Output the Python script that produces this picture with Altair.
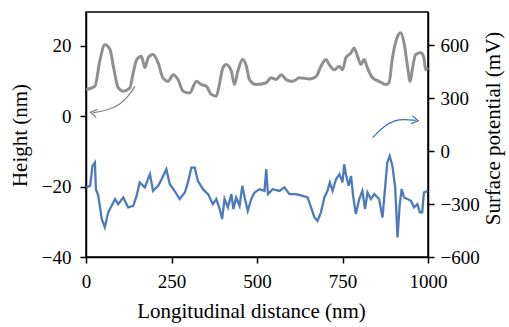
import altair as alt
import pandas as pd

# Height profile (nm) - gray trace, left axis
gray_x = [0, 26, 41, 55, 70, 80, 94, 109, 128, 138, 148, 162, 172, 182, 196, 211, 225, 240, 255, 269,
          284, 303, 323, 337, 352, 366, 381, 391, 400, 410, 425, 434, 444, 459, 469, 478, 498, 527, 541, 556,
          571, 585, 604, 624, 653, 673, 687, 702, 711, 726, 741, 750, 760, 775, 784, 794, 804, 813, 823, 838,
          857, 877, 886, 896, 911, 920, 930, 940, 948, 954, 964, 979, 988, 993, 1000]
gray_h = [7.6, 8.5, 16, 20.3, 19, 14.2, 8.1, 7.1, 8, 12.3, 16, 17, 13.8, 16.6, 17.5, 15.1, 10.9, 9.9, 11.8, 10.4,
          7.1, 6.6, 9.9, 9, 8.5, 6.2, 5.7, 9.5, 13.7, 14.7, 12.8, 9, 12.8, 16.1, 14.2, 10.4, 9, 9.5, 10.9, 10.4,
          11.8, 10.4, 9.9, 10.9, 10.6, 11.3, 14.2, 16.1, 14.7, 13.2, 14.2, 13.2, 16.6, 18, 19.4, 17, 14.7, 16.1, 13.7, 10.9,
          9.9, 9, 9.5, 16.6, 22.7, 23.7, 20.8, 14.2, 9.9, 13.2, 17.5, 18, 16.6, 13.2, 13.8]

# Surface potential (mV) - blue trace, right axis
blue_x = [0, 12, 19, 26, 29, 36, 46, 55, 65, 75, 85, 94, 109, 123, 138, 148, 157, 172, 187, 196,
          211, 221, 235, 245, 259, 274, 289, 298, 308, 318, 327, 342, 357, 371, 381, 391, 398, 405, 415, 425,
          431, 439, 449, 457, 464, 473, 483, 493, 507, 522, 527, 532, 546, 566, 580, 595, 614, 634, 648, 658,
          668, 677, 687, 697, 706, 713, 721, 731, 741, 750, 755, 760, 768, 775, 781, 789, 799, 808, 816, 823,
          833, 843, 857, 867, 875, 881, 888, 896, 904, 911, 917, 923, 930, 940, 950, 959, 969, 976, 983, 988, 1000]
blue_p = [-206, -197, -85, -65, -216, -254, -385, -432, -347, -310, -272, -301, -263, -319, -310, -254, -178, -206, -131, -226,
          -197, -160, -103, -188, -226, -272, -235, -178, -94, -94, -169, -216, -244, -301, -272, -329, -385, -272, -319, -244,
          -329, -263, -310, -197, -263, -338, -272, -235, -216, -226, -103, -244, -216, -226, -206, -244, -244, -254, -263, -319,
          -376, -395, -347, -263, -226, -178, -226, -160, -131, -178, -75, -131, -197, -141, -254, -357, -272, -226, -329, -235,
          -272, -244, -272, -376, -197, -65, -28, -85, -206, -489, -310, -216, -263, -272, -282, -319, -301, -347, -347, -235, -226]

# Annotation arrows (in data units of the Height axis)
garrow_x = [143, 125, 100, 60, 20]
garrow_h = [8.5, 5.8, 3.2, 1.6, 1.0]
barrow_x = [838, 872, 915, 964]
barrow_h = [-6.1, -2.6, -0.65, -1.2]

x_ticks = [0, 250, 500, 750, 1000]
h_ticks = [-40, -20, 0, 20]
p_ticks = [-600, -300, 0, 300, 600]

FONT = "Liberation Serif"
GRAY = "#838383"
BLUE = "#3a6cb6"

gray_df = pd.DataFrame({"x": gray_x, "h": gray_h})
blue_df = pd.DataFrame({"x": blue_x, "p": blue_p})
garrow_df = pd.DataFrame({"x": garrow_x, "h": garrow_h, "o": range(len(garrow_x))})
barrow_df = pd.DataFrame({"x": barrow_x, "h": barrow_h, "o": range(len(barrow_x))})

xenc = alt.X("x:Q", scale=alt.Scale(domain=[0, 1000], nice=False),
             axis=alt.Axis(values=x_ticks, title="Longitudinal distance (nm)", format="d",
                           labelBaseline="alphabetic", labelPadding=24, labelFlush=False, labelOverlap=False,
                           titleX=165, titleY=60.5, titleBaseline="alphabetic", titleAlign="center"))
hscale = alt.Scale(domain=[-40, 29.6], nice=False, zero=False)
haxis = alt.Axis(values=h_ticks, title="Height (nm)", orient="left", labelPadding=9,
                 labelFlush=False, labelOverlap=False,
                 titleX=-59.5, titleY=123, titleAngle=270, titleBaseline="alphabetic", titleAlign="center")

gray_line = alt.Chart(gray_df).mark_line(color=GRAY, strokeWidth=3, interpolate="monotone", opacity=0.9).encode(
    x=xenc, y=alt.Y("h:Q", scale=hscale, axis=haxis))

g_arrow = alt.Chart(garrow_df).mark_line(color=GRAY, strokeWidth=1.2, interpolate="basis").encode(
    x="x:Q", y=alt.Y("h:Q", scale=hscale, axis=haxis), order="o:Q")
g_head = alt.Chart(garrow_df.iloc[[-1]]).mark_point(
    shape="M1,-1L-0.6,0L1,1", filled=False, color=GRAY, strokeWidth=1.2, size=70, opacity=1, angle=10).encode(
    x="x:Q", y=alt.Y("h:Q", scale=hscale, axis=haxis))

b_arrow = alt.Chart(barrow_df).mark_line(color=BLUE, strokeWidth=1.2, interpolate="basis").encode(
    x="x:Q", y=alt.Y("h:Q", scale=hscale, axis=haxis), order="o:Q")
b_head = alt.Chart(barrow_df.iloc[[-1]]).mark_point(
    shape="M-1,-1L0.6,0L-1,1", filled=False, color=BLUE, strokeWidth=1.2, size=70, opacity=1, angle=10).encode(
    x="x:Q", y=alt.Y("h:Q", scale=hscale, axis=haxis))

left = alt.layer(gray_line, g_arrow, g_head, b_arrow, b_head)

blue_line = alt.Chart(blue_df).mark_line(color=BLUE, strokeWidth=2.3, opacity=0.9).encode(
    x="x:Q",
    y=alt.Y("p:Q", scale=alt.Scale(domain=[-600, 787], nice=False, zero=False),
            axis=alt.Axis(values=p_ticks, title="Surface potential (mV)", orient="right", labelPadding=6,
                          labelFlush=False, labelOverlap=False,
                          titleX=71, titleY=116, titleAngle=270, titleBaseline="alphabetic",
                          titleAlign="center")))

chart = alt.layer(left, blue_line).resolve_scale(y="independent").properties(
    width=342, height=245,
    autosize=alt.AutoSizeParams(type="none"),
    padding={"left": 86, "top": 12, "right": 81, "bottom": 70},
    background="white",
).configure_view(stroke="black", strokeWidth=1.5).configure_axis(
    grid=False, domainColor="black", domainWidth=1.5, tickColor="black", tickWidth=1.5, tickSize=6,
    labelFont=FONT, labelFontSize=19, labelColor="black",
    titleFont=FONT, titleFontSize=21, titleFontWeight="normal", titleColor="black",
)

chart.save("out.html", embed_options={"renderer": "svg", "actions": False})
